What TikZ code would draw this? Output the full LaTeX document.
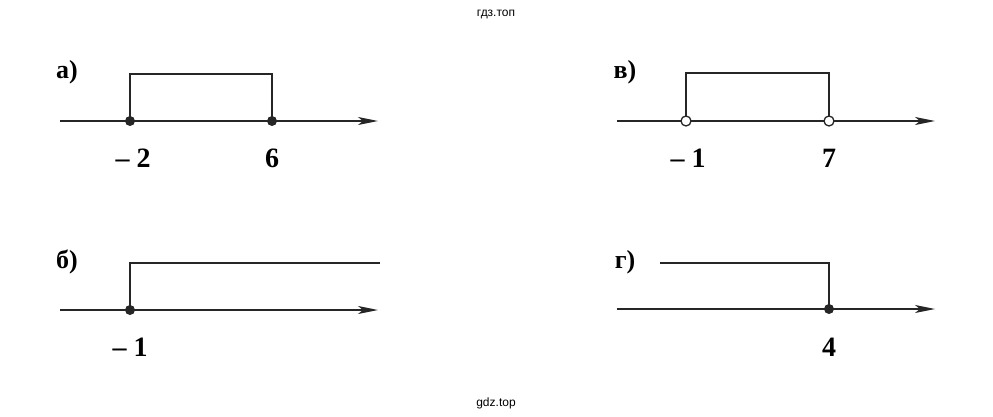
\documentclass[tikz,border=0pt]{standalone}
\usepackage{fontspec}
\setmainfont{Liberation Serif}
\newfontfamily\sansf{Liberation Sans}
\usetikzlibrary{arrows.meta}
\begin{document}
\begin{tikzpicture}[x=1pt,y=-1pt,
  ax/.style={line width=1.6pt,-{Stealth[length=20pt,width=8pt,inset=5pt]},color=black!85},
  br/.style={line width=1.4pt,color=black!85},
  lab/.style={font=\fontsize{26}{30}\selectfont\bfseries},
  num/.style={font=\fontsize{28}{32}\selectfont\bfseries},
  wm/.style={font=\sansf\fontsize{12}{14}\selectfont},
  fd/.style={circle,fill=black!85,inner sep=0pt,minimum size=10pt},
  od/.style={circle,draw=black!85,fill=white,line width=1.3pt,inner sep=0pt,minimum size=10pt}]
\useasboundingbox (0,0) rectangle (993,417);
\node[wm] (w1) at (496,14) {гдз.топ};
\node[wm] (w2) at (496,403) {gdz.top};
% a
\node[lab] (la) at (67,72) {а)};
\coordinate (a0) at (60,121); \coordinate (a1) at (378,121);
\draw[ax] (a0) -- (a1);
\draw[br] (130,121) -- (130,74) -- (272,74) -- (272,121);
\node[fd] (pa1) at (130,121) {}; \node[fd] (pa2) at (272,121) {};
\node[num] (na1) at (133,158) {– 2}; \node[num] (na2) at (272,158) {6};
% v
\node[lab] (lv) at (625,72) {в)};
\coordinate (v0) at (617,121); \coordinate (v1) at (935,121);
\draw[ax] (v0) -- (v1);
\draw[br] (686,121) -- (686,73) -- (829,73) -- (829,121);
\node[od] (pv1) at (686,121) {}; \node[od] (pv2) at (829,121) {};
\node[num] (nv1) at (688,158) {– 1}; \node[num] (nv2) at (829,158) {7};
% b
\node[lab] (lb) at (67,262) {б)};
\coordinate (b0) at (60,310); \coordinate (b1) at (378,310);
\draw[ax] (b0) -- (b1);
\draw[br] (130,310) -- (130,263) -- (380,263);
\node[fd] (pb1) at (130,310) {};
\node[num] (nb1) at (130,347) {– 1};
% g
\node[lab] (lg) at (625,262) {г)};
\coordinate (g0) at (617,309); \coordinate (g1) at (935,309);
\draw[ax] (g0) -- (g1);
\draw[br] (660,263) -- (829,263) -- (829,309);
\node[fd] (pg1) at (829,309) {};
\node[num] (ng1) at (829,347) {4};
\end{tikzpicture}
\end{document}
